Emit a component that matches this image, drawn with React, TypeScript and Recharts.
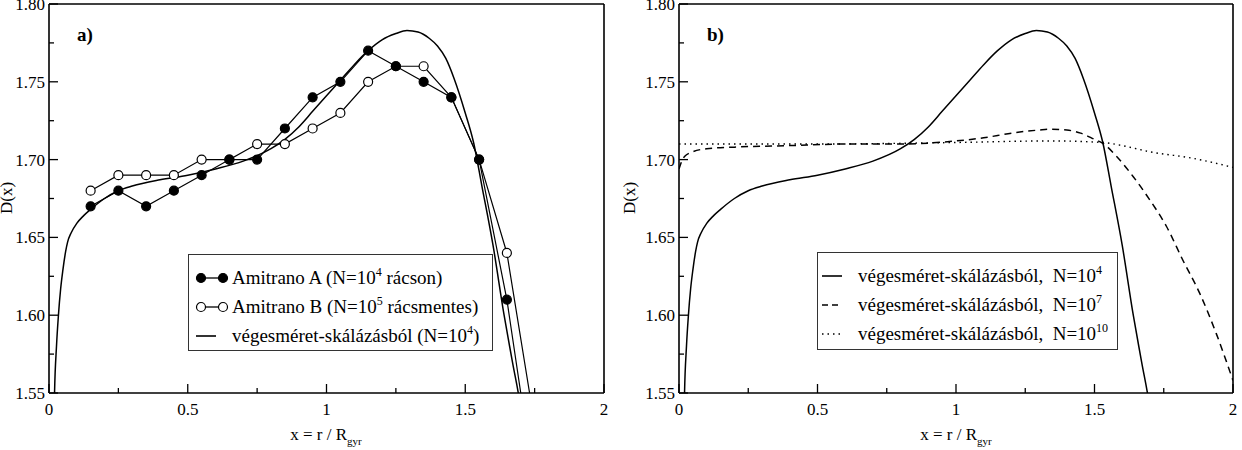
import { LineChart, Line, XAxis, YAxis } from 'recharts';

const FONT = '"Liberation Serif", "DejaVu Serif", serif';

// axis ticks (minor + major), labels only on the majors
const xTicks = [0, 0.25, 0.5, 0.75, 1, 1.25, 1.5, 1.75, 2];
const xMajor = [0, 0.5, 1, 1.5, 2];
const yTicks = [1.55, 1.575, 1.6, 1.625, 1.65, 1.675, 1.7, 1.725, 1.75, 1.775, 1.8];
const yMajor = [1.55, 1.6, 1.65, 1.7, 1.75, 1.8];

// Amitrano data points (same x positions for both sets)
const amitranoX = [0.15, 0.25, 0.35, 0.45, 0.55, 0.65, 0.75, 0.85, 0.95, 1.05, 1.15, 1.25, 1.35, 1.45, 1.55, 1.65, 1.75];
const amitranoA = [1.67, 1.68, 1.67, 1.68, 1.69, 1.7, 1.7, 1.72, 1.74, 1.75, 1.77, 1.76, 1.75, 1.74, 1.7, 1.61, 1.49];
const amitranoB = [1.68, 1.69, 1.69, 1.69, 1.7, 1.7, 1.71, 1.71, 1.72, 1.73, 1.75, 1.76, 1.76, 1.74, 1.7, 1.64, 1.53];

// finite size scaling curves
const fssX4 = [0.012, 0.02, 0.027, 0.034, 0.042, 0.05, 0.06, 0.067, 0.08, 0.1, 0.125, 0.15, 0.2, 0.25, 0.3, 0.4, 0.5, 0.6, 0.7, 0.8, 0.85, 0.9, 0.95, 1.0, 1.05, 1.1, 1.15, 1.2, 1.25, 1.29, 1.33, 1.37, 1.4, 1.43, 1.46, 1.5, 1.53, 1.56, 1.6, 1.64, 1.67, 1.7, 1.72];
const fssY4 = [1.45, 1.55, 1.58, 1.6, 1.617, 1.629, 1.641, 1.647, 1.653, 1.659, 1.664, 1.668, 1.675, 1.68, 1.683, 1.687, 1.69, 1.694, 1.699, 1.707, 1.713, 1.721, 1.731, 1.741, 1.751, 1.761, 1.77, 1.777, 1.781, 1.783, 1.782, 1.778, 1.773, 1.765, 1.752, 1.73, 1.711, 1.683, 1.645, 1.6, 1.57, 1.54, 1.51];

const fssX7 = [0, 0.01, 0.02, 0.05, 0.1, 0.2, 0.4, 0.6, 0.8, 1.0, 1.1, 1.2, 1.3, 1.34, 1.4, 1.45, 1.5, 1.53, 1.58, 1.64, 1.7, 1.76, 1.82, 1.88, 1.94, 2.0];
const fssY7 = [1.694, 1.699, 1.702, 1.705, 1.707, 1.708, 1.709, 1.71, 1.71, 1.712, 1.714, 1.717, 1.719, 1.7195, 1.719, 1.717, 1.713, 1.7105, 1.702, 1.689, 1.674, 1.657, 1.635, 1.614, 1.588, 1.558];

const fssX10 = [0, 0.5, 1.0, 1.34, 1.53, 1.6, 1.7, 1.85, 2.0];
const fssY10 = [1.71, 1.71, 1.711, 1.712, 1.711, 1.709, 1.705, 1.701, 1.695];

const toPoints = (xs: number[], ys: number[]) => xs.map((x, i) => ({ x, y: ys[i] }));
const dataA = toPoints(amitranoX, amitranoA);
const dataB = toPoints(amitranoX, amitranoB);
const data4 = toPoints(fssX4, fssY4);
const data7 = toPoints(fssX7, fssY7);
const data10 = toPoints(fssX10, fssY10);

const MAJOR = 9;
const MINOR = 5;

const BottomTick = ({ x, y, payload }: any) => {
    const major = xMajor.includes(payload.value);
    return (
        <g>
            <line x1={x} y1={y} x2={x} y2={y - (major ? MAJOR : MINOR)} stroke="#000" strokeWidth={1.3} />
            {major && (
                <text x={x} y={y + 22} textAnchor="middle" fontSize={17} fontFamily={FONT} fill="#000">
                    {payload.value}
                </text>
            )}
        </g>
    );
};

const TopTick = ({ x, y, payload }: any) => {
    const major = xMajor.includes(payload.value);
    return <line x1={x} y1={y} x2={x} y2={y + (major ? MAJOR : MINOR)} stroke="#000" strokeWidth={1.3} />;
};

const LeftTick = ({ x, y, payload }: any) => {
    const major = yMajor.includes(payload.value);
    return (
        <g>
            <line x1={x} y1={y} x2={x + (major ? MAJOR : MINOR)} y2={y} stroke="#000" strokeWidth={1.3} />
            {major && (
                <text x={x - 4} y={y + 6} textAnchor="end" fontSize={17} fontFamily={FONT} fill="#000">
                    {payload.value.toFixed(2)}
                </text>
            )}
        </g>
    );
};

const RightTick = ({ x, y, payload }: any) => {
    const major = yMajor.includes(payload.value);
    return <line x1={x} y1={y} x2={x - (major ? MAJOR : MINOR)} y2={y} stroke="#000" strokeWidth={1.3} />;
};

const frame = { stroke: '#000', strokeWidth: 1.6 };

function Panel({ leftWidth, rightWidth, children }: any) {
    return (
        <LineChart width={621} height={450} margin={{ top: 3, right: 0, bottom: 0, left: 0 }}>
            <XAxis
                dataKey="x"
                type="number"
                domain={[0, 2]}
                ticks={xTicks}
                interval={0}
                allowDataOverflow
                height={57}
                tickLine={false}
                tickSize={0}
                tickMargin={0}
                axisLine={frame}
                tick={<BottomTick />}
            />
            <XAxis
                xAxisId="top"
                orientation="top"
                type="number"
                domain={[0, 2]}
                ticks={xTicks}
                interval={0}
                height={1}
                tickLine={false}
                tickSize={0}
                tickMargin={0}
                axisLine={frame}
                tick={<TopTick />}
            />
            <YAxis
                type="number"
                domain={[1.55, 1.8]}
                ticks={yTicks}
                interval={0}
                allowDataOverflow
                width={leftWidth}
                tickLine={false}
                tickSize={0}
                tickMargin={0}
                axisLine={frame}
                tick={<LeftTick />}
            />
            <YAxis
                yAxisId="right"
                orientation="right"
                type="number"
                domain={[1.55, 1.8]}
                ticks={yTicks}
                interval={0}
                width={rightWidth}
                tickLine={false}
                tickSize={0}
                tickMargin={0}
                axisLine={frame}
                tick={<RightTick />}
            />
            {children}
        </LineChart>
    );
}

const XTitle = ({ left }: { left: number }) => (
    <div style={{ position: 'absolute', left, top: 425, width: 200, textAlign: 'center', fontSize: 17 }}>
        x = r / R<sub style={{ fontSize: 11, verticalAlign: -5 }}>gyr</sub>
    </div>
);

const YTitle = ({ cx }: { cx: number }) => (
    <div
        style={{
            position: 'absolute',
            left: cx - 30,
            top: 188,
            width: 60,
            textAlign: 'center',
            fontSize: 17,
            lineHeight: '20px',
            transform: 'rotate(-90deg)',
        }}
    >
        D(x)
    </div>
);

const Sup = ({ children }: any) => (
    <sup style={{ fontSize: 12, verticalAlign: 8, lineHeight: 0 }}>{children}</sup>
);

const legendBox = {
    position: 'absolute' as const,
    border: '1.6px solid #333',
    background: '#fff',
    fontSize: 19,
    whiteSpace: 'pre' as const,
    boxSizing: 'border-box' as const,
};

const Row = ({ marker, children }: any) => (
    <div style={{ display: 'flex', alignItems: 'center', height: 29 }}>
        <svg width={40} height={12} style={{ flex: 'none' }}>{marker}</svg>
        <span>{children}</span>
    </div>
);

const dotMarker = (fill: string) => (
    <g>
        <line x1={9} y1={6} x2={31} y2={6} stroke="#000" strokeWidth={1.3} />
        <circle cx={9} cy={6} r={4.5} fill={fill} stroke="#000" strokeWidth={1.2} />
        <circle cx={31} cy={6} r={4.5} fill={fill} stroke="#000" strokeWidth={1.2} />
    </g>
);

const lineMarker = (dash?: string) => (
    <line x1={4} y1={6} x2={24} y2={6} stroke="#000" strokeWidth={1.6} strokeDasharray={dash} />
);

export default function App() {
    return (
        <div style={{ position: 'absolute', left: 0, top: 0, width: 1242, height: 450, fontFamily: FONT, background: '#fff' }}>
            <div style={{ position: 'absolute', left: 0, top: 0 }}>
                <Panel leftWidth={49} rightWidth={17}>
                    <Line data={data4} dataKey="y" type="monotone" stroke="#000" strokeWidth={1.5} dot={false} isAnimationActive={false} />
                    <Line
                        data={dataB}
                        dataKey="y"
                        stroke="#000"
                        strokeWidth={1.2}
                        dot={{ r: 4.5, fill: '#fff', stroke: '#000', strokeWidth: 1.2 }}
                        isAnimationActive={false}
                    />
                    <Line
                        data={dataA}
                        dataKey="y"
                        stroke="#000"
                        strokeWidth={1.2}
                        dot={{ r: 4.5, fill: '#000', stroke: '#000', strokeWidth: 1.2 }}
                        isAnimationActive={false}
                    />
                </Panel>
            </div>
            <div style={{ position: 'absolute', left: 621, top: 0 }}>
                <Panel leftWidth={58} rightWidth={9}>
                    <Line data={data10} dataKey="y" type="monotone" stroke="#000" strokeWidth={1.4} strokeDasharray="1.5 4" dot={false} isAnimationActive={false} />
                    <Line data={data7} dataKey="y" type="monotone" stroke="#000" strokeWidth={1.5} strokeDasharray="7 5" dot={false} isAnimationActive={false} />
                    <Line data={data4} dataKey="y" type="monotone" stroke="#000" strokeWidth={1.5} dot={false} isAnimationActive={false} />
                </Panel>
            </div>

            <div style={{ position: 'absolute', left: 77, top: 24, fontSize: 19, fontWeight: 'bold' }}>a)</div>
            <div style={{ position: 'absolute', left: 707, top: 24, fontSize: 19, fontWeight: 'bold' }}>b)</div>

            <YTitle cx={7} />
            <YTitle cx={630} />
            <XTitle left={226} />
            <XTitle left={856} />

            <div style={{ ...legendBox, left: 188, top: 254, width: 305, height: 97, paddingTop: 8, paddingLeft: 3 }}>
                <Row marker={dotMarker('#000')}>
                    Amitrano A (N=10<Sup>4</Sup> rácson)
                </Row>
                <Row marker={dotMarker('#fff')}>
                    Amitrano B (N=10<Sup>5</Sup> rácsmentes)
                </Row>
                <Row marker={lineMarker()}>
                    végesméret-skálázásból (N=10<Sup>4</Sup>)
                </Row>
            </div>

            <div style={{ ...legendBox, left: 817, top: 252, width: 301, height: 98, paddingTop: 8, paddingLeft: 0 }}>
                <Row marker={lineMarker()}>végesméret-skálázásból,  N=10<Sup>4</Sup></Row>
                <Row marker={lineMarker('6 4')}>végesméret-skálázásból,  N=10<Sup>7</Sup></Row>
                <Row marker={lineMarker('1.5 4')}>végesméret-skálázásból,  N=10<Sup>10</Sup></Row>
            </div>
        </div>
    );
}
